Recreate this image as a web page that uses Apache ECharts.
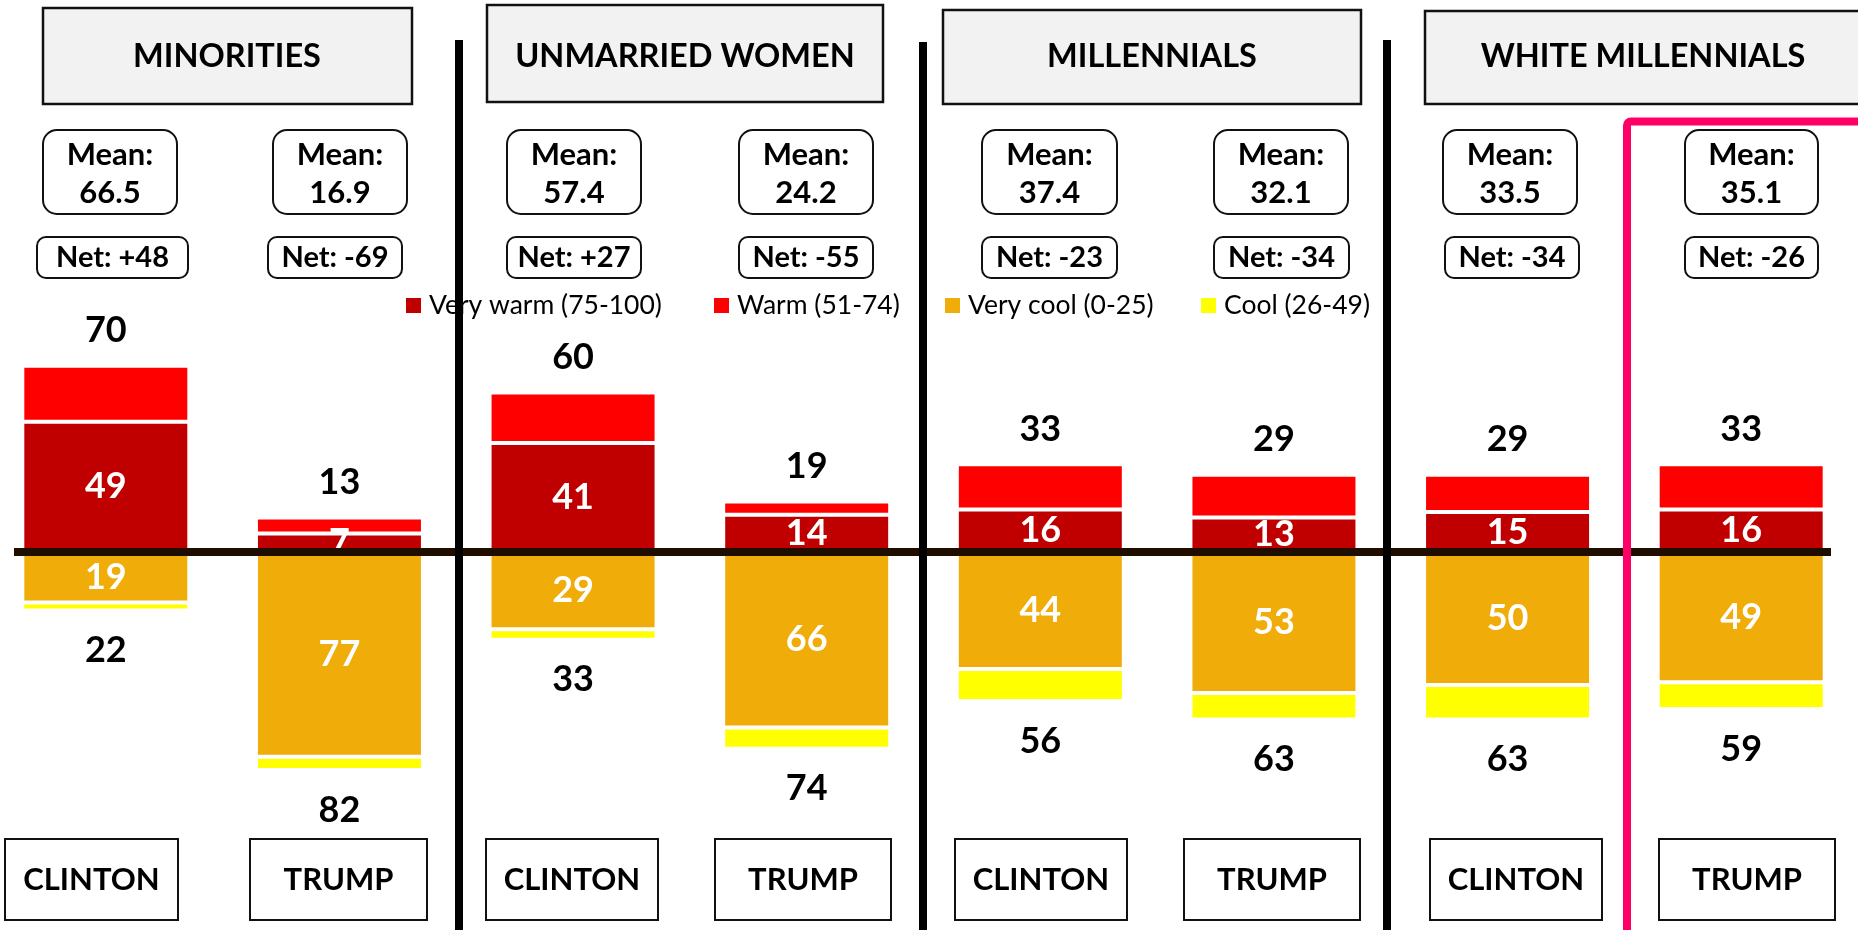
<!DOCTYPE html>
<html><head><meta charset="utf-8">
<script src="https://cdn.jsdelivr.net/npm/echarts@6/dist/echarts.min.js"></script>
<style>html,body{margin:0;padding:0;background:#fff}#c{width:1858px;height:930px}</style>
</head><body><div id="c"></div>
<script>
// ---- data ----
const groups = ['MINORITIES', 'UNMARRIED WOMEN', 'MILLENNIALS', 'WHITE MILLENNIALS'];
const candidates = ['CLINTON', 'TRUMP', 'CLINTON', 'TRUMP', 'CLINTON', 'TRUMP', 'CLINTON', 'TRUMP'];
const veryWarm = [49, 7, 41, 14, 16, 13, 15, 16];
const warm = [21, 6, 19, 5, 17, 16, 14, 17];
const veryCool = [19, 77, 29, 66, 44, 53, 50, 49];
const cool = [3, 5, 4, 8, 12, 10, 13, 10];
const meanScores = ['66.5', '16.9', '57.4', '24.2', '37.4', '32.1', '33.5', '35.1'];
const netScores = ['+48', '-69', '+27', '-55', '-23', '-34', '-34', '-26'];
const seriesNames = ['Very warm (75-100)', 'Warm (51-74)', 'Very cool (0-25)', 'Cool (26-49)'];

// ---- layout (decoration positions) ----
const FONT = 'Lato, "Liberation Sans", Arial, sans-serif';
const titleBoxes = [[43, 8, 369, 96], [487, 5, 396, 97], [943, 10, 418, 94], [1425, 11, 445, 93]];
const titleCenters = [227, 685, 1152, 1643];
const meanBoxX = [[43, 134], [273, 134], [507, 134], [739, 134], [982, 135], [1214, 134], [1443, 134], [1685, 133]];
const netBoxX = [[37, 151], [268, 134], [507, 134], [739, 134], [982, 135], [1214, 135], [1445, 134], [1685, 133]];
const footBoxX = [[5, 173], [250, 177], [486, 172], [715, 176], [955, 172], [1184, 176], [1430, 172], [1659, 176]];
const legendLeft = [406, 714, 945, 1201];

const g = [];
const txt = (text, x, y, size) => ({type: 'text', z: 6, style: {text: text, x: x, y: y,
  align: 'center', verticalAlign: 'middle', textAlign: 'center', textVerticalAlign: 'middle',
  font: 'bold ' + size + 'px ' + FONT, fill: '#000'}});
titleBoxes.forEach((b, i) => {
  g.push({type: 'rect', z: 5, shape: {x: b[0], y: b[1], width: b[2], height: b[3]},
    style: {fill: '#F2F2F2', stroke: '#111', lineWidth: 2.5}});
  g.push(txt(groups[i], titleCenters[i], 57, 32.5));
});
meanBoxX.forEach((b, i) => {
  const cx = b[0] + b[1] / 2;
  g.push({type: 'rect', z: 5, shape: {x: b[0], y: 130, width: b[1], height: 84, r: 14},
    style: {fill: '#fff', stroke: '#111', lineWidth: 2}});
  g.push(txt('Mean:', cx, 155, 31));
  g.push(txt(meanScores[i], cx, 193, 31));
});
netBoxX.forEach((b, i) => {
  const cx = b[0] + b[1] / 2;
  g.push({type: 'rect', z: 5, shape: {x: b[0], y: 237, width: b[1], height: 41, r: 9},
    style: {fill: '#fff', stroke: '#111', lineWidth: 2}});
  g.push(txt('Net: ' + netScores[i], cx, 258, 29));
});
footBoxX.forEach((b, i) => {
  const cx = b[0] + b[1] / 2;
  g.push({type: 'rect', z: 5, shape: {x: b[0], y: 839, width: b[1], height: 81},
    style: {fill: '#fff', stroke: '#111', lineWidth: 2}});
  g.push(txt(candidates[i], cx, 880, 31));
});
// zero line
g.push({type: 'line', z: 30, shape: {x1: 14, y1: 552, x2: 1831, y2: 552}, style: {stroke: '#1F0E00', lineWidth: 8}});
// separators
[[459, 40], [923, 42], [1387, 40]].forEach(s => {
  g.push({type: 'line', z: 40, shape: {x1: s[0], y1: s[1], x2: s[0], y2: 930}, style: {stroke: '#000', lineWidth: 8}});
});
// highlight frame
g.push({type: 'rect', z: 50, shape: {x: 1627, y: 121.5, width: 400, height: 1000, r: 4},
  style: {fill: 'none', stroke: '#FF0066', lineWidth: 8}});

const labelBase = {show: true, fontSize: 36, fontWeight: 'bold', fontFamily: FONT};
const colors = ['#C00000', '#FF0000', '#F0AC08', '#FFFF00'];
const mk = (idx, values, label) => ({
  type: 'bar', name: seriesNames[idx], stack: 'all', barWidth: 167, data: values,
  itemStyle: {color: colors[idx], borderColor: '#fff', borderWidth: 2},
  label: Object.assign({}, labelBase, label)
});

const option = {
  animation: false,
  backgroundColor: '#fff',
  grid: {left: -11, right: 0, top: 286, bottom: 112, outerBoundsMode: 'none', containLabel: false},
  xAxis: {type: 'category', data: candidates, axisLabel: {show: false}, axisLine: {show: false}, axisTick: {show: false}},
  yAxis: {type: 'value', min: -100, max: 100, show: false, splitLine: {show: false}},
  legend: seriesNames.map((n, i) => ({
    data: [n], left: legendLeft[i], top: 292, padding: 0, icon: 'rect', itemWidth: 15, itemHeight: 15,
    itemStyle: {borderWidth: 0}, selectedMode: false,
    textStyle: {fontSize: 26.5, fontFamily: FONT, color: '#000', padding: [0, 0, 0, 3]}
  })),
  series: [
    mk(0, veryWarm, {position: 'inside', color: '#fff'}),
    mk(1, warm, {position: 'top', distance: 17, color: '#000',
      formatter: p => veryWarm[p.dataIndex] + warm[p.dataIndex]}),
    mk(2, veryCool.map(v => -v), {position: 'inside', color: '#fff',
      formatter: p => veryCool[p.dataIndex]}),
    mk(3, cool.map(v => -v), {position: 'bottom', distance: 22, color: '#000',
      formatter: p => veryCool[p.dataIndex] + cool[p.dataIndex]})
  ],
  graphic: {elements: g}
};
const chart = echarts.init(document.getElementById('c'));
chart.setOption(option);
</script>
</body></html>
